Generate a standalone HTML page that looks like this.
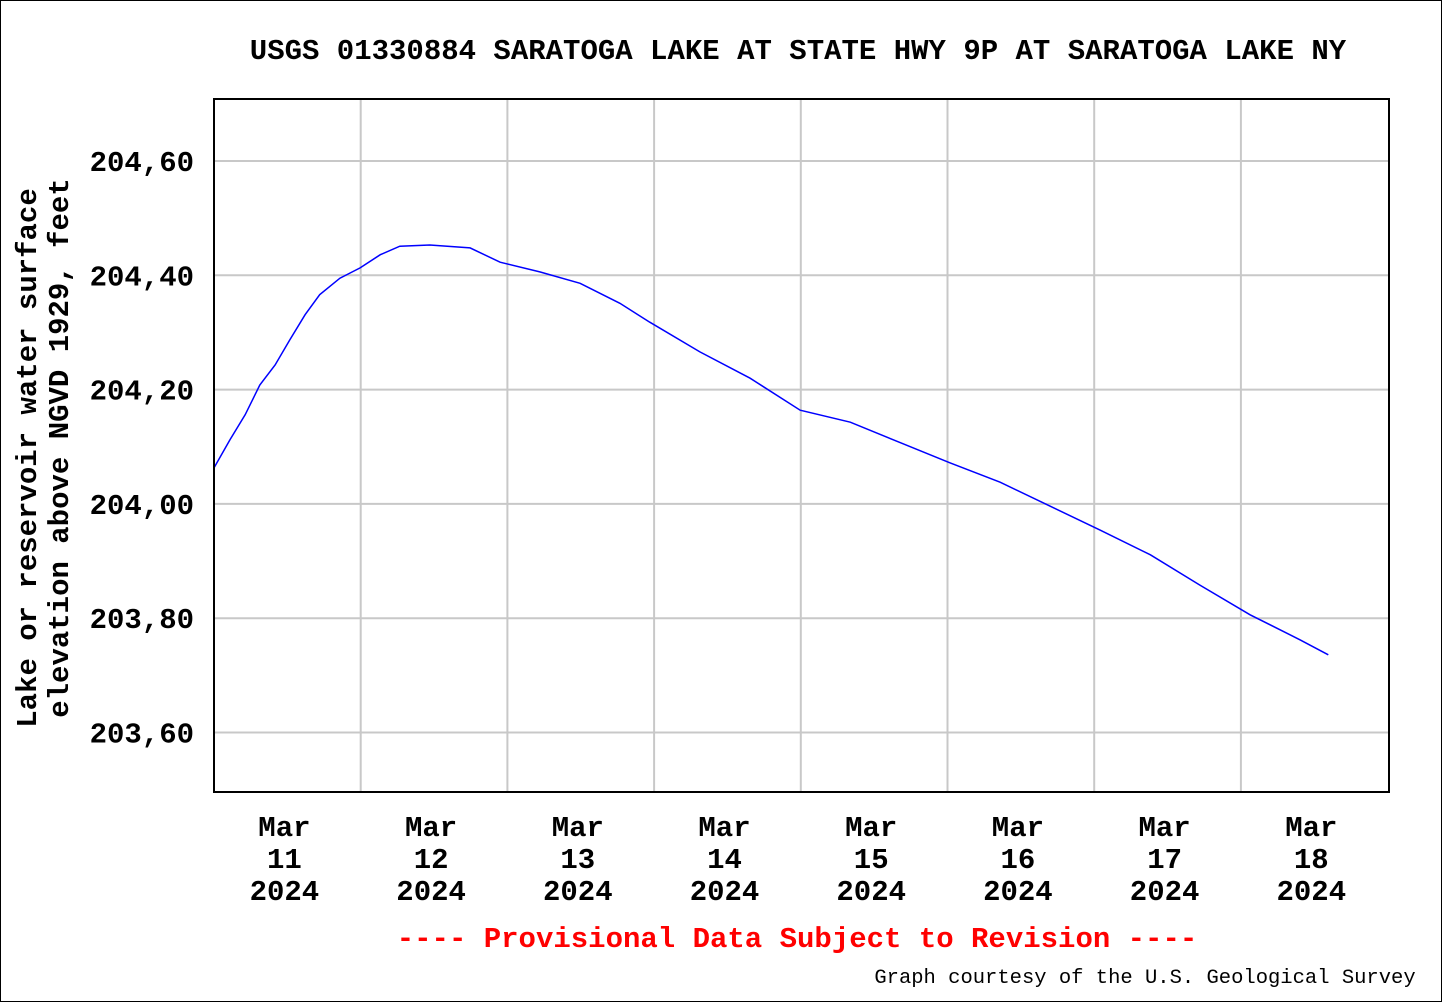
<!DOCTYPE html>
<html><head><meta charset="utf-8"><style>
html,body{margin:0;padding:0;background:#fff;}
svg{display:block;}
text{font-family:"Liberation Mono",monospace;font-weight:bold;}
</style></head><body>
<svg id="chart" width="1442" height="1002" viewBox="0 0 1442 1002">
<rect x="0.5" y="0.5" width="1441" height="1001" fill="#fff" stroke="#000"/>
<text x="798" y="59" font-size="29" text-anchor="middle">USGS 01330884 SARATOGA LAKE AT STATE HWY 9P AT SARATOGA LAKE NY</text>
<g id="grid"></g>
<g id="yticks"></g>
<g id="xticks"></g>
<g id="series"></g>
<rect x="214" y="99" width="1175" height="693" fill="none" stroke="#000" stroke-width="2"/>
<text transform="translate(36,458) rotate(-90)" font-size="29" text-anchor="middle">Lake or reservoir water surface</text>
<text transform="translate(68,448) rotate(-90)" font-size="29" text-anchor="middle">elevation above NGVD 1929, feet</text>
<text x="797" y="947" font-size="29" fill="#ff0000" text-anchor="middle">---- Provisional Data Subject to Revision ----</text>
<text x="1145" y="983" font-size="20.5" text-anchor="middle" style="font-weight:normal">Graph courtesy of the U.S. Geological Survey</text>
</svg>
<script>
const yTickValues = [203.60, 203.80, 204.00, 204.20, 204.40, 204.60];
const dayLabels = ["11", "12", "13", "14", "15", "16", "17", "18"];
const hoursSeries = [0,2.6,5.1,7.5,10,12.4,14.9,17.3,20.6,23.9,27.2,30.4,35.3,41.9,46.8,53.3,59.9,66.4,71.3,79.5,87.7,95.9,104.1,112.3,120.4,128.6,136.8,145,153.2,161.3,169.5,177.7,182.3];
const levelSeries = [204.063,204.112,204.156,204.208,204.243,204.287,204.331,204.366,204.395,204.413,204.436,204.451,204.453,204.448,204.423,204.406,204.386,204.351,204.318,204.266,204.220,204.164,204.143,204.107,204.072,204.038,203.996,203.954,203.911,203.858,203.806,203.762,203.736];

const NS = "http://www.w3.org/2000/svg";
const X0 = 214, DAYW = 146.7;
function xScale(h){ return X0 + h / 24 * DAYW; }
function yScale(v){ return 161 + (204.60 - v) * 571.5; }

const grid = document.getElementById('grid');
const yt = document.getElementById('yticks');
yTickValues.forEach(v => {
  const y = yScale(v);
  const l = document.createElementNS(NS, 'line');
  l.setAttribute('x1', 214); l.setAttribute('x2', 1389);
  l.setAttribute('y1', y); l.setAttribute('y2', y);
  l.setAttribute('stroke', '#c8c8c8'); l.setAttribute('stroke-width', '2');
  
  
  grid.appendChild(l);
  const t = document.createElementNS(NS, 'text');
  t.setAttribute('x', 194); t.setAttribute('y', y + 10);
  t.setAttribute('font-size', '29'); t.setAttribute('text-anchor', 'end');
  t.textContent = v.toFixed(2).replace('.', ',');
  
  
  yt.appendChild(t);
});

const xt = document.getElementById('xticks');
dayLabels.forEach((d, i) => {
  if (i > 0) {
    const x = X0 + i * DAYW;
    const l = document.createElementNS(NS, 'line');
    l.setAttribute('x1', x); l.setAttribute('x2', x);
    l.setAttribute('y1', 99); l.setAttribute('y2', 792);
    l.setAttribute('stroke', '#c8c8c8'); l.setAttribute('stroke-width', '2');
    
    
    grid.appendChild(l);
  }
  const cx = X0 + (i + 0.48) * DAYW;
  ["Mar", d, "2024"].forEach((s, k) => {
    const t = document.createElementNS(NS, 'text');
    t.setAttribute('x', cx); t.setAttribute('y', 836 + k * 32);
    t.setAttribute('font-size', '29'); t.setAttribute('text-anchor', 'middle');
    t.textContent = s;
    
    
    xt.appendChild(t);
  });
});

const pts = hoursSeries.map((h, i) => xScale(h).toFixed(1) + ',' + yScale(levelSeries[i]).toFixed(1));
const line = document.createElementNS(NS, 'polyline');
line.setAttribute('points', pts.join(' '));
line.setAttribute('fill', 'none'); line.setAttribute('stroke', '#0000ff');
line.setAttribute('stroke-width', '1.5');


document.getElementById('series').appendChild(line);
</script>
</body></html>
